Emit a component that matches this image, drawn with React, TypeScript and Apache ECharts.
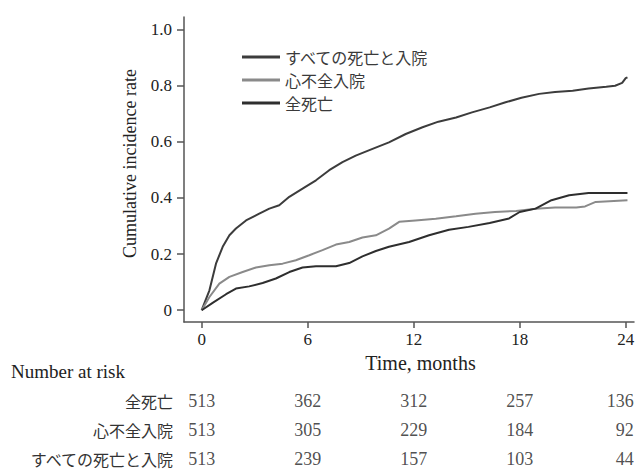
import React, { useEffect, useRef } from "react";
import * as echarts from "echarts";

const seriesNames = ["すべての死亡と入院", "心不全入院", "全死亡"];

const allEvents: number[][] = [
  [0, 0], [0.44, 0.071], [0.81, 0.166], [1.19, 0.226], [1.57, 0.267], [1.94, 0.291],
  [2.51, 0.32], [3.26, 0.344], [3.83, 0.362], [4.39, 0.374], [4.96, 0.404], [5.71, 0.433],
  [6.47, 0.463], [7.22, 0.499], [7.97, 0.528], [8.72, 0.551], [9.67, 0.575], [10.6, 0.598],
  [11.55, 0.628], [12.5, 0.652], [13.4, 0.672], [14.4, 0.687], [15.3, 0.705], [16.3, 0.723],
  [17.2, 0.741], [18.1, 0.757], [19.1, 0.771], [20.0, 0.778], [21.0, 0.782], [21.9, 0.79],
  [22.9, 0.796], [23.4, 0.8], [23.8, 0.81], [24.0, 0.827], [24.1, 0.83],
];

const hfHosp: number[][] = [
  [0, 0], [0.44, 0.047], [1.0, 0.095], [1.57, 0.119], [2.32, 0.136], [3.07, 0.152],
  [3.83, 0.16], [4.58, 0.166], [5.33, 0.178], [6.09, 0.196], [6.84, 0.214], [7.6, 0.234],
  [8.35, 0.243], [9.1, 0.259], [9.86, 0.267], [10.6, 0.291], [11.18, 0.315], [12.1, 0.32],
  [13.25, 0.326], [14.4, 0.335], [15.5, 0.344], [16.6, 0.35], [17.8, 0.354], [18.9, 0.362],
  [20.0, 0.366], [21.2, 0.366], [21.7, 0.37], [22.3, 0.386], [24.1, 0.392],
];

const allDeath: number[][] = [
  [0, 0], [0.62, 0.026], [1.38, 0.057], [1.94, 0.077], [2.69, 0.085], [3.45, 0.097],
  [4.2, 0.113], [4.96, 0.136], [5.71, 0.152], [6.47, 0.157], [7.6, 0.157], [8.35, 0.168],
  [9.1, 0.192], [9.86, 0.211], [10.6, 0.226], [11.74, 0.243], [12.87, 0.267], [14.0, 0.287],
  [15.1, 0.297], [16.3, 0.311], [17.4, 0.327], [18.0, 0.35], [18.9, 0.362], [19.8, 0.392],
  [20.8, 0.41], [21.9, 0.418], [24.1, 0.418],
];

const xTicks = [0, 6, 12, 18, 24];
const yTicks = [0, 0.2, 0.4, 0.6, 0.8, 1.0];

const riskRows = ["全死亡", "心不全入院", "すべての死亡と入院"];
const riskAllDeath = [513, 362, 312, 257, 136];
const riskHfHosp = [513, 305, 229, 184, 92];
const riskAllEvents = [513, 239, 157, 103, 44];

const colors = ["#3c3c3c", "#8a8a8a", "#2e2e2e"];
const SERIF = "'Liberation Serif', 'Times New Roman', serif";
const CJK = "'Noto Sans CJK JP', sans-serif";

export default function App() {
  const ref = useRef<HTMLDivElement>(null);
  useEffect(() => {
    if (!ref.current) return;
    const chart = echarts.init(ref.current, null, { renderer: "svg" });
    const riskValues = [riskAllDeath, riskHfHosp, riskAllEvents];
    const lastTick = xTicks[xTicks.length - 1];
    const riskData: any[] = [];
    riskRows.forEach((_row, ri) => {
      xTicks.forEach((t, ti) => {
        const item: any = { value: [t, ri, riskValues[ri][ti]] };
        if (t === lastTick) {
          item.label = { align: "right", offset: [8, 0] };
        }
        riskData.push(item);
      });
    });
    const option: any = {
      animation: false,
      backgroundColor: "#ffffff",
      grid: [
        { left: 184, top: 17, width: 450, height: 305, containLabel: false, outerBoundsMode: "none" },
        { left: 184, top: 387, width: 450, height: 85, containLabel: false, outerBoundsMode: "none" },
      ],
      legend: {
        orient: "vertical",
        left: 237,
        top: 44,
        icon: "rect",
        itemWidth: 38,
        itemHeight: 3,
        itemGap: 7,
        data: seriesNames,
        textStyle: { fontFamily: CJK, fontSize: 16, color: "#3a3a3a", lineHeight: 16 },
      },
      xAxis: [
        {
          type: "value",
          gridIndex: 0,
          min: -1,
          max: 24.47,
          splitLine: { show: false },
          axisLine: { show: true, onZero: false, lineStyle: { color: "#555", width: 1.5 } },
          axisTick: { show: true, customValues: xTicks, length: 6, lineStyle: { color: "#555", width: 1.5 } },
          axisLabel: {
            customValues: xTicks,
            fontFamily: SERIF,
            fontSize: 17,
            color: "#222",
            margin: 9,
          },
          name: "Time, months",
          nameLocation: "middle",
          nameGap: 25,
          nameTextStyle: { fontFamily: SERIF, fontSize: 20, color: "#222", padding: [0, 0, 0, 23] },
        },
        {
          type: "value",
          gridIndex: 1,
          min: -1,
          max: 24.47,
          show: false,
        },
      ],
      yAxis: [
        {
          type: "value",
          gridIndex: 0,
          min: -0.042,
          max: 1.045,
          splitLine: { show: false },
          axisLine: { show: true, onZero: false, lineStyle: { color: "#555", width: 1.5 } },
          axisTick: { show: true, customValues: yTicks, length: 7, lineStyle: { color: "#555", width: 1.5 } },
          axisLabel: {
            customValues: yTicks,
            fontFamily: SERIF,
            fontSize: 17,
            color: "#222",
            margin: 12,
            formatter: (v: number) => (Math.abs(v) < 1e-9 ? "0" : v.toFixed(1)),
          },
          name: "Cumulative incidence rate",
          nameLocation: "middle",
          nameRotate: 90,
          nameGap: 45,
          nameTextStyle: { fontFamily: SERIF, fontSize: 18, color: "#222", padding: [0, 0, 0, 12] },
        },
        {
          type: "value",
          gridIndex: 1,
          min: -0.5,
          max: 2.45,
          inverse: true,
          axisLine: { show: false },
          axisTick: { show: false },
          splitLine: { show: false },
          axisLabel: {
            customValues: [0, 1, 2],
            formatter: (v: number) => riskRows[Math.round(v)] ?? "",
            fontFamily: CJK,
            fontSize: 16,
            color: "#333",
            margin: 11,
          },
        },
      ],
      graphic: [
        {
          type: "text",
          left: 11,
          top: 362,
          style: { text: "Number at risk", font: `19px ${SERIF}`, fill: "#222" },
        },
      ],
      series: [
        {
          name: seriesNames[0],
          type: "line",
          xAxisIndex: 0,
          yAxisIndex: 0,
          data: allEvents,
          symbol: "none",
          lineStyle: { color: colors[0], width: 2 },
          itemStyle: { color: colors[0] },
        },
        {
          name: seriesNames[1],
          type: "line",
          xAxisIndex: 0,
          yAxisIndex: 0,
          data: hfHosp,
          symbol: "none",
          lineStyle: { color: colors[1], width: 2 },
          itemStyle: { color: colors[1] },
        },
        {
          name: seriesNames[2],
          type: "line",
          xAxisIndex: 0,
          yAxisIndex: 0,
          data: allDeath,
          symbol: "none",
          lineStyle: { color: colors[2], width: 2 },
          itemStyle: { color: colors[2] },
        },
        {
          type: "scatter",
          xAxisIndex: 1,
          yAxisIndex: 1,
          data: riskData,
          symbolSize: 1,
          itemStyle: { color: "rgba(0,0,0,0)" },
          silent: true,
          label: {
            show: true,
            position: "inside",
            formatter: (p: any) => String(p.value[2]),
            fontFamily: SERIF,
            fontSize: 18,
            color: "#222",
          },
        },
      ],
    };
    chart.setOption(option);
    return () => chart.dispose();
  }, []);
  return (
    <div
      ref={ref}
      style={{ position: "fixed", left: 0, top: 0, width: 636, height: 472, background: "#fff" }}
    />
  );
}
